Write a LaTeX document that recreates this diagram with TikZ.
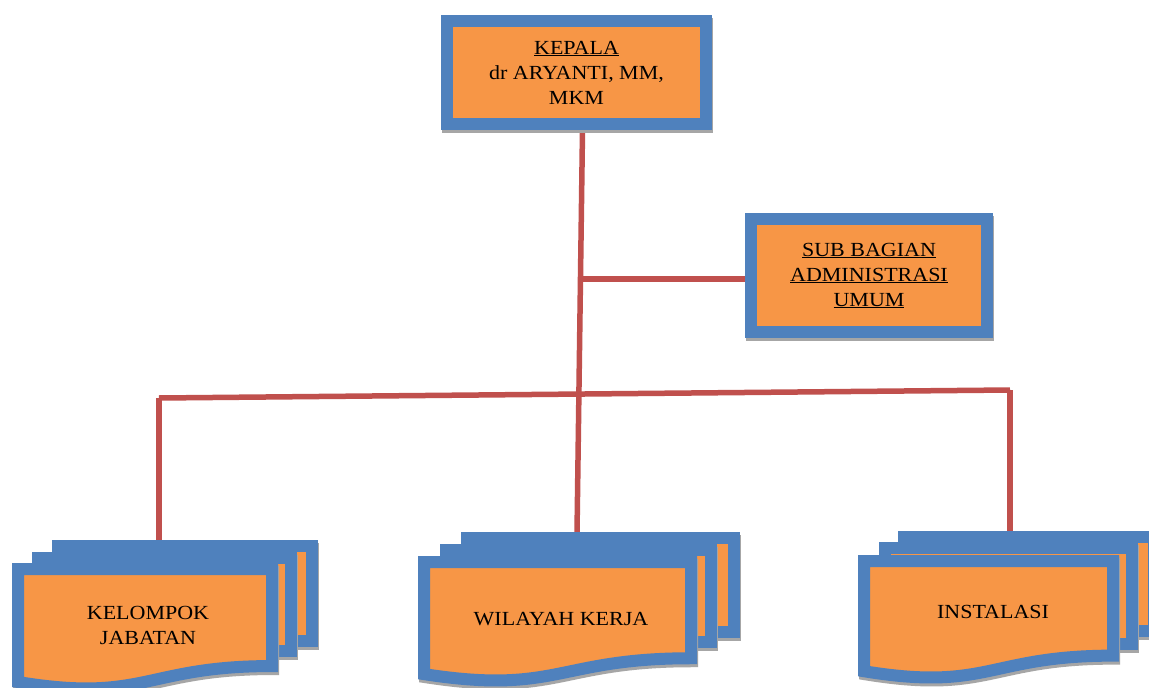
\documentclass[tikz,border=0pt]{standalone}
\usepackage{fontspec}
\setmainfont[FakeStretch=1.1]{Liberation Serif}
\usetikzlibrary{backgrounds}
\definecolor{ublue}{HTML}{4F81BD}
\definecolor{uorange}{HTML}{F79646}
\definecolor{ured}{HTML}{C0504D}
\definecolor{ushadow}{HTML}{A6A6A6}
% front document: x0 y0 x1 h (centre line of border)
\newcommand{\frontdoc}[4]{%
  \begin{scope}[shift={(1,3)}]
    \draw[line width=12pt, draw=ushadow] (#1,#2) -- (#3,#2) -- (#3,{#2+0.802*#4}) .. controls ({(#1+#3)/2},{#2+0.802*#4}) and ({(#1+#3)/2},{#2+1.107*#4}) .. (#1,{#2+0.934*#4}) -- cycle;
  \end{scope}
  \draw[docstyle] (#1,#2) -- (#3,#2) -- (#3,{#2+0.802*#4}) .. controls ({(#1+#3)/2},{#2+0.802*#4}) and ({(#1+#3)/2},{#2+1.107*#4}) .. (#1,{#2+0.934*#4}) -- cycle;
}
% back document: x0 y0 x1 y1
\newcommand{\backdoc}[4]{%
  \begin{scope}[shift={(1,3)}]
    \draw[line width=12pt, draw=ushadow] (#1,#2) rectangle (#3,#4);
  \end{scope}
  \draw[docstyle] (#1,#2) rectangle (#3,#4);
}
\begin{document}
\begin{tikzpicture}[x=1pt,y=-1pt,
  boxstyle/.style={draw=ublue, fill=uorange, line width=12pt, align=center,
    inner sep=0pt, font=\fontsize{20}{25}\selectfont,
    preaction={draw=ushadow, line width=12pt, transform canvas={shift={(1pt,-3pt)}}}},
  docstyle/.style={draw=ublue, fill=uorange, line width=12pt},
  txt/.style={align=center, inner sep=0pt, font=\fontsize{20}{25}\selectfont},
  conn/.style={draw=ured, line width=5.5pt}]
\useasboundingbox (0,0) rectangle (1149,688);

\node[boxstyle, minimum width=259pt, minimum height=103pt] (kepala) at (576.5,72.5)
  {\underline{KEPALA}\\dr ARYANTI, MM,\\MKM};
\node[boxstyle, minimum width=236pt, minimum height=113pt] (sub) at (869,275.5)
  {\underline{SUB BAGIAN}\\\underline{ADMINISTRASI}\\\underline{UMUM}};

\coordinate (kjtop) at (159,541);
\coordinate (wktop) at (577,533);
\coordinate (intop) at (1010,532);
\coordinate (jl) at (159,398);
\coordinate (jr) at (1010,390);
\coordinate (jsub) at (580,279);

\begin{scope}[on background layer]
  \fill[white] (0,0) rectangle (1149,688);
  \draw[conn] ([xshift=6pt]kepala.south) -- (wktop);
  \draw[conn] (jsub) -- (sub.west |- jsub);
  \draw[conn] (jl) -- (jr);
  \draw[conn] (jl) -- (kjtop);
  \draw[conn] (jr) -- (intop);
\end{scope}

% left group
\backdoc{58}{546}{312}{641}
\backdoc{38}{558}{291}{651}
\frontdoc{18}{569}{272}{121}
\node[txt] (kj) at (148,625) {KELOMPOK\\JABATAN};

% middle group
\backdoc{467}{538}{734}{632}
\backdoc{446}{550}{711}{642}
\frontdoc{424}{562}{691}{120}
\node[txt] (wk) at (561,619) {WILAYAH KERJA};

% right group
\backdoc{904}{537}{1154}{631}
\backdoc{885}{548}{1132}{644}
\frontdoc{864}{561}{1113}{118}
\node[txt] (ins) at (993,612) {INSTALASI};
\end{tikzpicture}
\end{document}
